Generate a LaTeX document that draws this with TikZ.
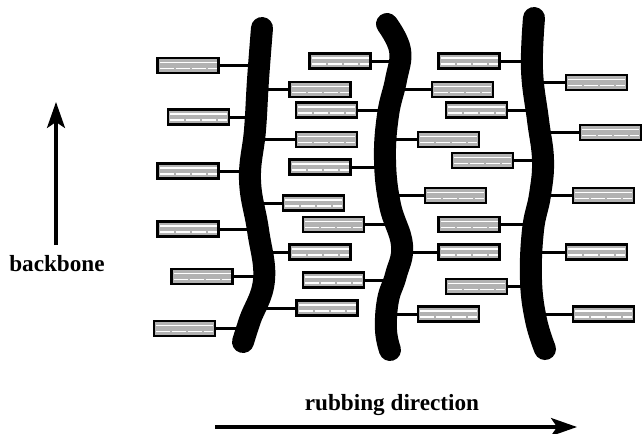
\documentclass[tikz,border=0pt]{standalone}
\usepackage{fontspec}
\setmainfont{Liberation Serif}
\usetikzlibrary{arrows.meta}

\begin{document}
\begin{tikzpicture}[
    x=0.5pt, y=-0.5pt,
    every node/.style={font=\fontsize{11.6}{13}\selectfont\bfseries},
    mesogen/.style={draw, line width=1.15pt, fill=gray!60, inner sep=0pt,
        minimum width=30.5pt, minimum height=7.5pt,
        path picture={
            \draw[white, line width=0.7pt]
                ([xshift=1pt,yshift=-2.2pt]path picture bounding box.north west) --
                ([xshift=-1pt,yshift=-2.2pt]path picture bounding box.north east);
            \draw[white, line width=0.7pt, dash pattern=on 7pt off 1pt]
                ([xshift=1pt,yshift=2.2pt]path picture bounding box.south west) --
                ([xshift=-1pt,yshift=2.2pt]path picture bounding box.south east);
        }},
    tether/.style={line width=1.5pt},
    backbone/.style={line width=11pt, line cap=round, line join=round},
    axis/.style={line width=1.6pt, -{Stealth[length=13pt, width=9pt, inset=3pt]}}
]
\useasboundingbox (0,0) rectangle (643,434);

% side groups, left of the first chain
\node[mesogen] (a1) at (188,65.5) {};
\node[mesogen] (a2) at (198.5,117) {};
\node[mesogen] (a3) at (188,171) {};
\node[mesogen] (a4) at (188,229) {};
\node[mesogen] (a5) at (202,276.5) {};
\node[mesogen] (a6) at (184.5,328.5) {};

% between first and second chain
\node[mesogen] (b1) at (320,89.5) {};
\node[mesogen] (b2) at (326.5,139.5) {};
\node[mesogen] (b3) at (313.5,203) {};
\node[mesogen] (b4) at (320,252) {};
\node[mesogen] (b5) at (327,308) {};
\node[mesogen] (c1) at (340,61) {};
\node[mesogen] (c2) at (326.5,110) {};
\node[mesogen] (c3) at (320,167) {};
\node[mesogen] (c4) at (333.5,224.5) {};
\node[mesogen] (c5) at (333.5,280) {};

% between second and third chain
\node[mesogen] (d1) at (462.5,89.5) {};
\node[mesogen] (d2) at (448.5,139.5) {};
\node[mesogen] (d3) at (455.5,195.5) {};
\node[mesogen] (d4) at (469,252) {};
\node[mesogen] (d5) at (448.5,314) {};
\node[mesogen] (e1) at (469,61) {};
\node[mesogen] (e2) at (476.5,110) {};
\node[mesogen] (e3) at (482.5,160.5) {};
\node[mesogen] (e4) at (469,224.5) {};
\node[mesogen] (e5) at (476.5,286.5) {};

% right of the third chain
\node[mesogen] (f1) at (596.5,82.5) {};
\node[mesogen] (f2) at (610.5,132.5) {};
\node[mesogen] (f3) at (603.5,195.5) {};
\node[mesogen] (f4) at (596.5,252) {};
\node[mesogen] (f5) at (603.5,314) {};

% spacers into the chains
\draw[tether] (a1.east) -- (a1.east -| 259,0);
\draw[tether] (a2.east) -- (a2.east -| 256,0);
\draw[tether] (a3.east) -- (a3.east -| 251,0);
\draw[tether] (a4.east) -- (a4.east -| 258,0);
\draw[tether] (a5.east) -- (a5.east -| 264,0);
\draw[tether] (a6.east) -- (a6.east -| 248,0);
\draw[tether] (b1.west) -- (b1.west -| 258,0);
\draw[tether] (b2.west) -- (b2.west -| 254,0);
\draw[tether] (b3.west) -- (b3.west -| 254,0);
\draw[tether] (b4.west) -- (b4.west -| 261,0);
\draw[tether] (b5.west) -- (b5.west -| 255,0);
\draw[tether] (c1.east) -- (c1.east -| 399,0);
\draw[tether] (c2.east) -- (c2.east -| 389,0);
\draw[tether] (c3.east) -- (c3.east -| 386,0);
\draw[tether] (c4.east) -- (c4.east -| 396,0);
\draw[tether] (c5.east) -- (c5.east -| 394,0);
\draw[tether] (d1.west) -- (d1.west -| 394,0);
\draw[tether] (d2.west) -- (d2.west -| 386,0);
\draw[tether] (d3.west) -- (d3.west -| 389,0);
\draw[tether] (d4.west) -- (d4.west -| 400,0);
\draw[tether] (d5.west) -- (d5.west -| 387,0);
\draw[tether] (e1.east) -- (e1.east -| 532,0);
\draw[tether] (e2.east) -- (e2.east -| 537,0);
\draw[tether] (e3.east) -- (e3.east -| 543,0);
\draw[tether] (e4.east) -- (e4.east -| 534,0);
\draw[tether] (e5.east) -- (e5.east -| 531,0);
\draw[tether] (f1.west) -- (f1.west -| 533,0);
\draw[tether] (f2.west) -- (f2.west -| 540,0);
\draw[tether] (f3.west) -- (f3.west -| 540,0);
\draw[tether] (f4.west) -- (f4.west -| 532,0);
\draw[tether] (f5.west) -- (f5.west -| 535,0);

% the three polymer chains
\draw[backbone] plot[smooth, tension=0.7] coordinates {(262,28) (258,80) (255,130) (250,180) (258,230) (264,280) (250,320) (243,342)};
\draw[backbone] plot[smooth, tension=0.7] coordinates {(387,24) (400,50) (396,80) (388,115) (385,160) (390,205) (402,245) (396,275) (388,300) (386,330) (390,350)};
\draw[backbone] plot[smooth, tension=0.7] coordinates {(534,18) (532,70) (538,120) (543,160) (540,195) (533,230) (531,280) (536,320) (545,349)};

% direction labels
\coordinate (upfoot) at (56,245);
\coordinate (uptip) at (56,102);
\draw[axis] (upfoot) -- (uptip);
\node (bblabel) at (57,264) {backbone};
\coordinate (rubfoot) at (215,427);
\coordinate (rubtip) at (577,427);
\draw[axis] (rubfoot) -- (rubtip);
\node (rublabel) at (392,405) {rubbing direction};
\end{tikzpicture}
\end{document}
